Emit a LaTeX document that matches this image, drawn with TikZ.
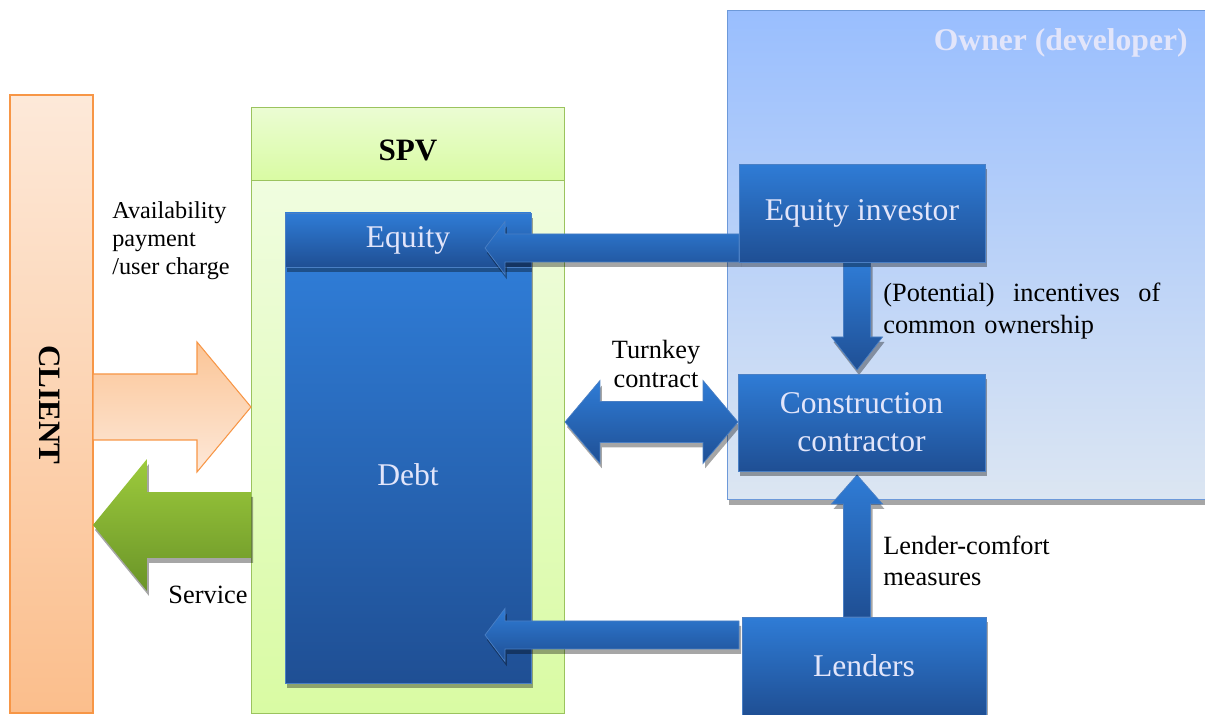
\documentclass[tikz,border=0pt]{standalone}
\usepackage{fontspec}
\setmainfont{Liberation Serif}
\usetikzlibrary{calc,shadows}

\definecolor{boxtop}{HTML}{2F7CD6}
\definecolor{boxbot}{HTML}{1F4F94}
\definecolor{boxline}{HTML}{4A7FC4}
\definecolor{boxtext}{HTML}{E2E5FA}
\definecolor{ownertop}{HTML}{99BEFE}
\definecolor{ownerbot}{HTML}{DCE6F2}
\definecolor{ownerline}{HTML}{6D99D9}
\definecolor{spvtop}{HTML}{F3FDE8}
\definecolor{spvbot}{HTML}{D9FBA3}
\definecolor{spvline}{HTML}{9BC35E}
\definecolor{clienttop}{HTML}{FDE9D9}
\definecolor{clientbot}{HTML}{FBBE8C}
\definecolor{clientline}{HTML}{F79646}
\definecolor{paytop}{HTML}{FBC597}
\definecolor{paybot}{HTML}{FDE8D8}
\definecolor{servtop}{HTML}{9DCB3C}
\definecolor{servbot}{HTML}{6A9428}

\tikzset{
  shadowed/.style={drop shadow={shadow xshift=0.04cm, shadow yshift=-0.1cm, fill=black, opacity=0.35}},
  blue box/.style={draw=boxline, line width=0.4pt, top color=boxtop, bottom color=boxbot,
    text=boxtext, font=\fontsize{18}{21.5}\selectfont, align=center, inner sep=0pt, shadowed},
  owner box/.style={draw=ownerline, line width=0.6pt, top color=ownertop, bottom color=ownerbot, inner sep=0pt, shadowed},
  spv box/.style={draw=spvline, line width=0.6pt, top color=spvtop, bottom color=spvbot, inner sep=0pt},
  client box/.style={draw=clientline, line width=0.8pt, top color=clienttop, bottom color=clientbot, inner sep=0pt},
  title/.style={font=\fontsize{17.7}{20}\selectfont\bfseries, inner sep=0pt},
  note/.style={font=\rmfamily\fontsize{15}{17}\selectfont, inner sep=0pt},
  blue arrow/.style={draw=boxline, line width=0.4pt, top color=boxtop, bottom color=boxbot, shadowed},
  pay arrow/.style={draw=clientline, line width=0.6pt, top color=paytop, bottom color=paybot},
  serv arrow/.style={top color=servtop, bottom color=servbot, shadowed}
}

% block arrow: [style]{tail}{tip}{half shaft}{half head}{head length}
\newcommand{\blkarrow}[6][]{%
  \coordinate (hb) at ($(#3)!#6!(#2)$);
  \path[#1] ($(#2)!#4!90:(#3)$) -- ($(hb)!#4!90:(#3)$) -- ($(hb)!#5!90:(#3)$) -- (#3)
    -- ($(hb)!#5!-90:(#3)$) -- ($(hb)!#4!-90:(#3)$) -- ($(#2)!#4!-90:(#3)$) -- cycle;}
% double block arrow: [style]{tip}{tip}{half shaft}{half head}{head length}
\newcommand{\dblarrow}[6][]{%
  \coordinate (hba) at ($(#2)!#6!(#3)$);
  \coordinate (hbb) at ($(#3)!#6!(#2)$);
  \path[#1] (#2) -- ($(hba)!#5!90:(#3)$) -- ($(hba)!#4!90:(#3)$) -- ($(hbb)!#4!-90:(#2)$)
    -- ($(hbb)!#5!-90:(#2)$) -- (#3) -- ($(hbb)!#5!90:(#2)$) -- ($(hbb)!#4!90:(#2)$)
    -- ($(hba)!#4!-90:(#3)$) -- ($(hba)!#5!-90:(#3)$) -- cycle;}

\begin{document}
\begin{tikzpicture}[x=0.02cm,y=-0.02cm]
\useasboundingbox (0,0) rectangle (1205,715);

% owner (developer)
\node[owner box, minimum width=9.76cm, minimum height=9.8cm] (owner) at (971,255) {};
\node[title, font=\fontsize{18}{20}\selectfont\bfseries, text=boxtext, anchor=east] (ownerlbl) at (1188,43) {Owner (developer)};

% client
\node[client box, minimum width=1.66cm, minimum height=12.36cm] (client) at (51.5,404) {};
\node[title, rotate=-90] (clientlbl) at (50,405) {CLIENT};

% spv
\node[spv box, minimum width=6.28cm, minimum height=12.14cm] (spv) at (408,410.5) {};
\node[spv box, top color=spvtop!70!spvbot, bottom color=spvbot, minimum width=6.28cm, minimum height=1.46cm, anchor=north] (spvhead) at (spv.north) {};
\node[title] (spvlbl) at (408,150) {SPV};
\node[blue box, minimum width=4.92cm, minimum height=8.32cm] (debt) at (408,475) {Debt};
\node[blue box, minimum width=4.92cm, minimum height=1.08cm] (eqt) at (408,240) {Equity};

% arrows
\coordinate (eqtip) at (485,248);
\coordinate (invout) at (739,248);
\coordinate (lendtip) at (485,635);
\coordinate (lendout) at (739,635);
\coordinate (turnl) at (565,422);
\coordinate (turnr) at (738,422);
\coordinate (invdown) at (857,262);
\coordinate (contop) at (857,370);
\coordinate (lendup) at (857,617);
\coordinate (conbot) at (857,475);
\coordinate (payout) at (93,407);
\coordinate (payin) at (251,407);
\coordinate (servout) at (251,525);
\coordinate (servin) at (93,525);

\blkarrow[blue arrow]{invout}{eqtip}{0.28cm}{0.53cm}{0.4cm}
\blkarrow[blue arrow]{lendout}{lendtip}{0.28cm}{0.53cm}{0.4cm}
\dblarrow[blue arrow]{turnl}{turnr}{0.41cm}{0.83cm}{0.7cm}
\blkarrow[blue arrow]{invdown}{contop}{0.27cm}{0.51cm}{0.66cm}
\blkarrow[blue arrow]{lendup}{conbot}{0.27cm}{0.51cm}{0.58cm}
\blkarrow[pay arrow]{payout}{payin}{0.66cm}{1.3cm}{1.08cm}
\blkarrow[serv arrow]{servout}{servin}{0.66cm}{1.32cm}{1.08cm}

% right hand boxes
\node[blue box, minimum width=4.92cm, minimum height=1.96cm] (inv) at (862,213) {Equity investor};
\node[blue box, minimum width=4.94cm, minimum height=1.94cm] (con) at (861.5,422.5) {Construction\\contractor};
\node[blue box, minimum width=4.88cm, minimum height=1.96cm] (lend) at (864,666) {Lenders};

% labels
\node[note, anchor=west, align=left, font=\fontsize{13.8}{16}\selectfont] (paylbl) at (112,241) {Availability\\payment\\/user charge};
\node[note] (servlbl) at (208,595) {Service};
\node[note, align=center] (turnlbl) at (656,364) {Turnkey\\contract};
\node[note, anchor=west, align=left, text width=5.54cm, font=\fontsize{15}{18}\selectfont] (inclbl) at (883,311) {(Potential)\hfill incentives\hfill of\\common ownership};
\node[note, anchor=west, align=left, font=\fontsize{15}{17.6}\selectfont] (comflbl) at (883,561) {Lender-comfort\\measures};

\end{tikzpicture}
\end{document}
